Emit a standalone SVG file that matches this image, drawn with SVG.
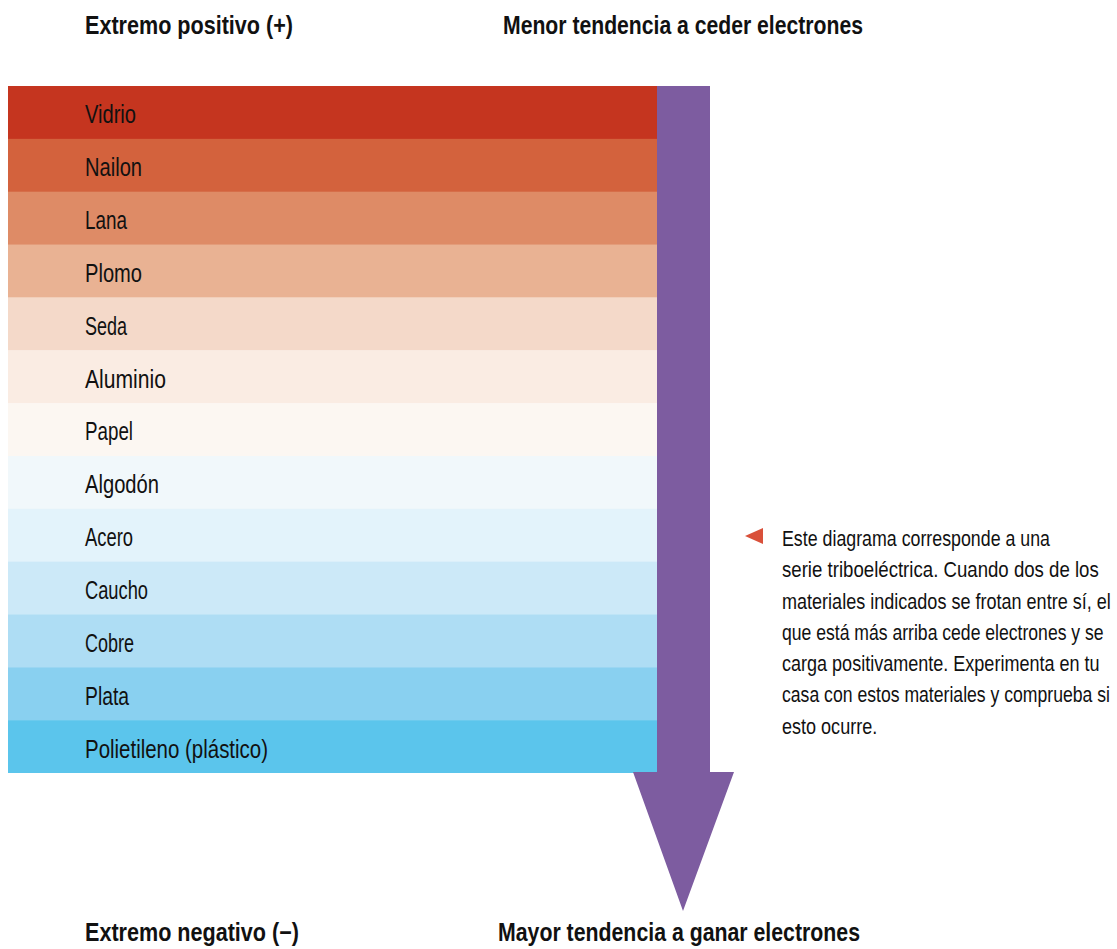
<svg xmlns="http://www.w3.org/2000/svg" width="1117" height="949" viewBox="0 0 1117 949">
<style>
.h{font-family:"Liberation Sans",Arial,sans-serif;font-weight:bold;font-size:25px;fill:#111}
.r{font-family:"Liberation Sans",Arial,sans-serif;font-size:25px;fill:#111}
.p{font-family:"Liberation Sans",Arial,sans-serif;font-size:21.5px;fill:#111}
</style>
<rect width="1117" height="949" fill="#fff"/>
<g id="headers">
<text class="h" x="85" y="34" textLength="208" lengthAdjust="spacingAndGlyphs">Extremo positivo (+)</text>
<text class="h" x="503" y="34" textLength="360" lengthAdjust="spacingAndGlyphs">Menor tendencia a ceder electrones</text>
<text class="h" x="85" y="941" textLength="214" lengthAdjust="spacingAndGlyphs">Extremo negativo (−)</text>
<text class="h" x="498" y="941" textLength="362" lengthAdjust="spacingAndGlyphs">Mayor tendencia a ganar electrones</text>
</g>
<g id="row-vidrio"><rect x="8" y="86" width="650" height="53.3" fill="#C5351F"/><text class="r" x="85" y="123" textLength="51" lengthAdjust="spacingAndGlyphs">Vidrio</text></g>
<g id="row-nailon"><rect x="8" y="138.85" width="650" height="53.3" fill="#D3623D"/><text class="r" x="85" y="176" textLength="57" lengthAdjust="spacingAndGlyphs">Nailon</text></g>
<g id="row-lana"><rect x="8" y="191.7" width="650" height="53.3" fill="#DE8B66"/><text class="r" x="85" y="229" textLength="42" lengthAdjust="spacingAndGlyphs">Lana</text></g>
<g id="row-plomo"><rect x="8" y="244.55" width="650" height="53.3" fill="#E9B293"/><text class="r" x="85" y="281.5" textLength="57" lengthAdjust="spacingAndGlyphs">Plomo</text></g>
<g id="row-seda"><rect x="8" y="297.4" width="650" height="53.3" fill="#F4D9C9"/><text class="r" x="85" y="334.5" textLength="42" lengthAdjust="spacingAndGlyphs">Seda</text></g>
<g id="row-aluminio"><rect x="8" y="350.25" width="650" height="53.3" fill="#FAECE3"/><text class="r" x="85" y="387.5" textLength="81" lengthAdjust="spacingAndGlyphs">Aluminio</text></g>
<g id="row-papel"><rect x="8" y="403.1" width="650" height="53.3" fill="#FCF7F2"/><text class="r" x="85" y="440" textLength="48" lengthAdjust="spacingAndGlyphs">Papel</text></g>
<g id="row-algodon"><rect x="8" y="455.95" width="650" height="53.3" fill="#F1F8FB"/><text class="r" x="85" y="493" textLength="74" lengthAdjust="spacingAndGlyphs">Algodón</text></g>
<g id="row-acero"><rect x="8" y="508.8" width="650" height="53.3" fill="#E3F3FB"/><text class="r" x="85" y="546" textLength="48" lengthAdjust="spacingAndGlyphs">Acero</text></g>
<g id="row-caucho"><rect x="8" y="561.65" width="650" height="53.3" fill="#CCE9F8"/><text class="r" x="85" y="599" textLength="63" lengthAdjust="spacingAndGlyphs">Caucho</text></g>
<g id="row-cobre"><rect x="8" y="614.5" width="650" height="53.3" fill="#AEDDF4"/><text class="r" x="85" y="651.5" textLength="49" lengthAdjust="spacingAndGlyphs">Cobre</text></g>
<g id="row-plata"><rect x="8" y="667.35" width="650" height="53.3" fill="#89D0F0"/><text class="r" x="85" y="704.5" textLength="44" lengthAdjust="spacingAndGlyphs">Plata</text></g>
<g id="row-polietileno"><rect x="8" y="720.2" width="650" height="52.8" fill="#5BC5EC"/><text class="r" x="85" y="757.5" textLength="183" lengthAdjust="spacingAndGlyphs">Polietileno (plástico)</text></g>
<g id="connectors">
<polygon id="arrow" points="657,86 710,86 710,772 734,772 683,911 633,772 657,772" fill="#7D5CA0"/>
</g>
<g id="note">
<polygon points="745,536 763,528 763,544" fill="#D9503A"/>
<g transform="translate(782 0) scale(0.8 1)">
<text class="p" x="0" y="546" textLength="335" lengthAdjust="spacingAndGlyphs">Este diagrama corresponde a una</text>
<text class="p" x="0" y="577.3" textLength="396" lengthAdjust="spacingAndGlyphs">serie triboeléctrica. Cuando dos de los</text>
<text class="p" x="0" y="608.6" textLength="411" lengthAdjust="spacingAndGlyphs">materiales indicados se frotan entre sí, el</text>
<text class="p" x="0" y="639.9" textLength="402" lengthAdjust="spacingAndGlyphs">que está más arriba cede electrones y se</text>
<text class="p" x="0" y="671.2" textLength="397" lengthAdjust="spacingAndGlyphs">carga positivamente. Experimenta en tu</text>
<text class="p" x="0" y="702.5" textLength="410" lengthAdjust="spacingAndGlyphs">casa con estos materiales y comprueba si</text>
<text class="p" x="0" y="733.8" textLength="119" lengthAdjust="spacingAndGlyphs">esto ocurre.</text>
</g>
</g>
</svg>
